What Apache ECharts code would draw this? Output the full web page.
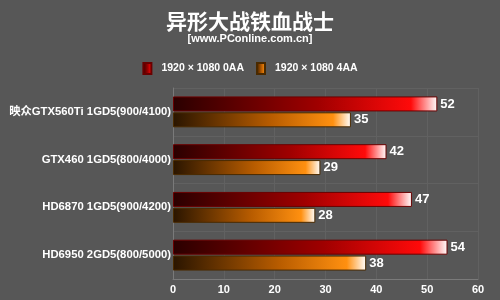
<!DOCTYPE html>
<html><head><meta charset="utf-8">
<script src="https://cdn.jsdelivr.net/npm/echarts@6/dist/echarts.min.js"></script>
<style>html,body{margin:0;padding:0;background:#575757}#c{width:500px;height:300px}</style>
</head><body><div id="c"></div>
<script>
const categories = ['映众GTX560Ti 1GD5(900/4100)','GTX460 1GD5(800/4000)','HD6870 1GD5(900/4200)','HD6950 2GD5(800/5000)'];
const seriesNames = ['1920 × 1080 0AA','1920 × 1080 4AA'];
const values0AA = [52,42,47,54];
const values4AA = [35,29,28,38];
const xTicks = [0,10,20,30,40,50,60];

const font = '"Liberation Sans","Noto Sans CJK SC",sans-serif';
function grad(dark, mid, bright){
  return new echarts.graphic.LinearGradient(0,0,1,0,[
    {offset:0,color:dark},{offset:0.55,color:mid},{offset:0.9,color:bright},{offset:1,color:'#ffffff'}]);
}
const chart = echarts.init(document.getElementById('c'));
chart.setOption({
  backgroundColor:'#575757',
  animation:false,
  title:{text:'异形大战铁血战士',subtext:'[www.PConline.com.cn]',left:'center',top:6,itemGap:1,
    textStyle:{color:'#fff',fontSize:21,fontWeight:'bold',fontFamily:'"Noto Sans CJK SC",sans-serif'},
    subtextStyle:{color:'#fff',fontSize:11,fontWeight:'bold',fontFamily:font}},
  legend:{top:57,left:'center',itemWidth:8,itemHeight:11,itemGap:12,icon:'rect',
    textStyle:{color:'#fff',fontSize:10.5,fontWeight:'bold',fontFamily:font,padding:[0,0,0,5]},
    data:seriesNames},
  grid:{left:173,right:22,top:88,bottom:21},
  xAxis:{type:'value',min:0,max:60,interval:10,
    axisLine:{show:true,lineStyle:{color:'#7a7a7a'}},axisTick:{show:false},
    axisLabel:{color:'#fff',fontSize:11,fontWeight:'bold',fontFamily:font,margin:5,
      formatter:v=>xTicks.includes(v)?String(v):''},
    splitLine:{show:true,lineStyle:{color:'#616161'}}},
  yAxis:{type:'category',inverse:true,data:categories,
    axisLine:{show:true,lineStyle:{color:'#7a7a7a'}},axisTick:{show:false},
    splitLine:{show:true,lineStyle:{color:'#616161'}},
    axisLabel:{color:'#fff',fontSize:11.3,fontWeight:'bold',fontFamily:font,margin:2}},
  series:[
    {name:seriesNames[0],type:'bar',data:values0AA,barWidth:15,barGap:'6%',
      itemStyle:{color:grad('#2a0000','#a00000','#ff0a0a'),borderColor:'#6a0000',borderWidth:1},
      label:{show:true,position:'right',distance:3,color:'#fff',fontSize:13,fontWeight:'bold',fontFamily:font}},
    {name:seriesNames[1],type:'bar',data:values4AA,barWidth:15,
      itemStyle:{color:grad('#2a1500','#b85c00','#ff9010'),borderColor:'#4a2a00',borderWidth:1},
      label:{show:true,position:'right',distance:3,color:'#fff',fontSize:13,fontWeight:'bold',fontFamily:font}}
  ]
});
</script></body></html>
